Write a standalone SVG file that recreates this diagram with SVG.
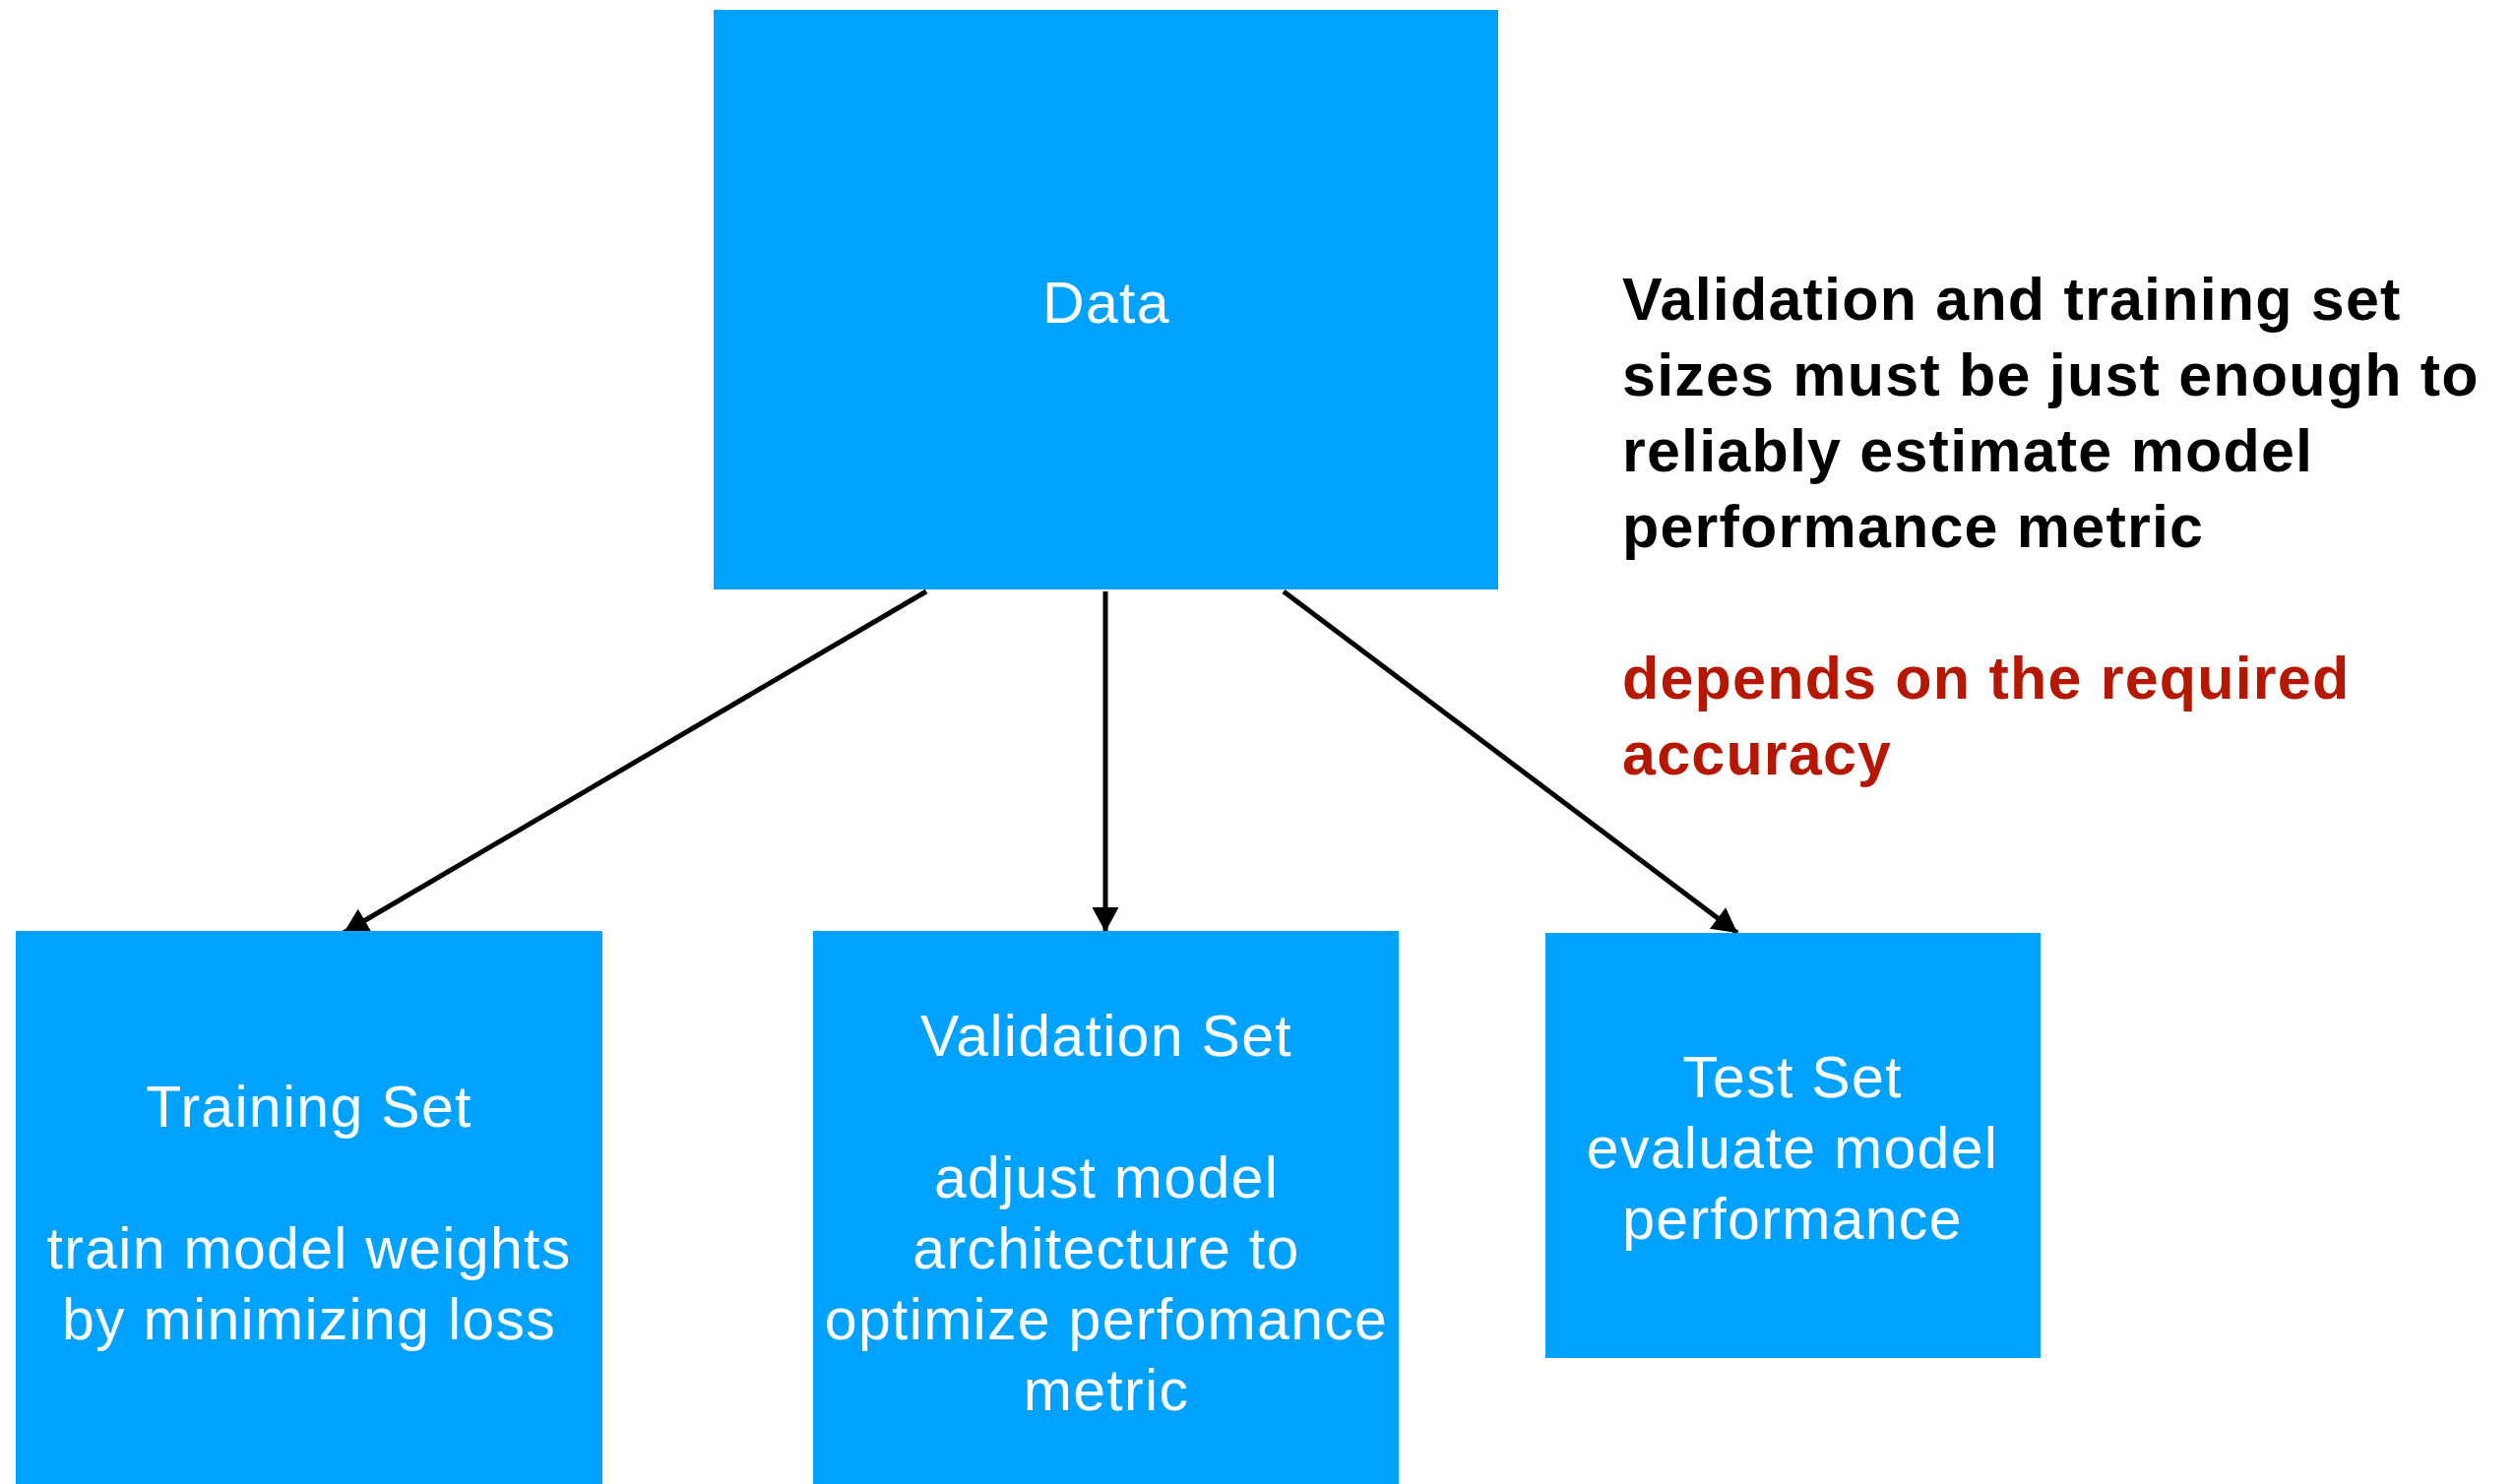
<svg xmlns="http://www.w3.org/2000/svg" width="2555" height="1508" viewBox="0 0 2555 1508">
  <style>
    .box { fill: #00A2FF; }
    .label { font-family: "Liberation Sans", Arial, sans-serif; font-size: 59px; fill: #FFFFFF; text-anchor: middle; letter-spacing: 1.3px; }
    .note { font-family: "Liberation Sans", Arial, sans-serif; font-size: 61px; font-weight: bold; letter-spacing: 1.2px; }
    .edge { stroke: #000000; stroke-width: 5; fill: none; }
  </style>
  <defs>
    <marker id="arrow" markerUnits="userSpaceOnUse" markerWidth="27" markerHeight="27" viewBox="0 0 25 27" refX="25" refY="13.5" orient="auto">
      <path d="M0,0 L25,13.5 L0,27 Z" fill="#000000"/>
    </marker>
  </defs>

  <rect width="2555" height="1508" fill="#FFFFFF"/>

  <g id="connectors">
    <line class="edge" x1="941" y1="601" x2="349" y2="948" marker-end="url(#arrow)"/>
    <line class="edge" x1="1123" y1="601" x2="1123" y2="947" marker-end="url(#arrow)"/>
    <line class="edge" x1="1304" y1="601" x2="1765" y2="948" marker-end="url(#arrow)"/>
  </g>

  <g id="node-data">
    <rect class="box" x="725" y="10" width="797" height="589"/>
    <text class="label" x="1124" y="328">Data</text>
  </g>

  <g id="node-training">
    <rect class="box" x="16" y="946" width="596" height="562"/>
    <text class="label" x="314" y="1145">Training Set</text>
    <text class="label" x="314" y="1289">train model weights</text>
    <text class="label" x="314" y="1361">by minimizing loss</text>
  </g>

  <g id="node-validation">
    <rect class="box" x="826" y="946" width="595" height="562"/>
    <text class="label" x="1124" y="1073">Validation Set</text>
    <text class="label" x="1124" y="1217">adjust model</text>
    <text class="label" x="1124" y="1289">architecture to</text>
    <text class="label" x="1124" y="1361">optimize perfomance</text>
    <text class="label" x="1124" y="1433">metric</text>
  </g>

  <g id="node-test">
    <rect class="box" x="1570" y="948" width="503" height="432"/>
    <text class="label" x="1821" y="1115">Test Set</text>
    <text class="label" x="1821" y="1187">evaluate model</text>
    <text class="label" x="1821" y="1259">performance</text>
  </g>

  <g id="note">
    <text class="note" x="1648" y="325" fill="#000000">Validation and training set</text>
    <text class="note" x="1648" y="402" fill="#000000">sizes must be just enough to</text>
    <text class="note" x="1648" y="479" fill="#000000">reliably estimate model</text>
    <text class="note" x="1648" y="556" fill="#000000">performance metric</text>
    <text class="note" x="1648" y="710" fill="#B51700">depends on the required</text>
    <text class="note" x="1648" y="787" fill="#B51700">accuracy</text>
  </g>
</svg>
